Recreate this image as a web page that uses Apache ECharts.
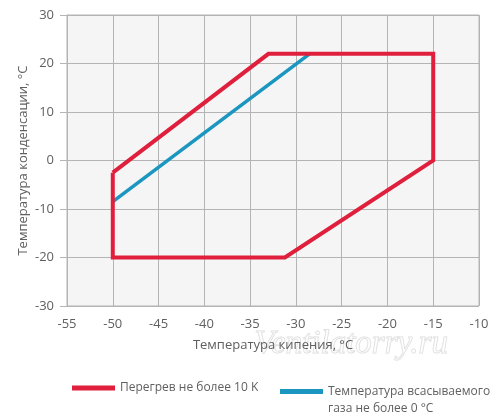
<!DOCTYPE html>
<html>
<head>
<meta charset="utf-8">
<script src="https://cdn.jsdelivr.net/npm/echarts@6/dist/echarts.min.js"></script>
<style>
  html, body { margin: 0; padding: 0; background: #fff; }
  #main { width: 500px; height: 416px; }
</style>
</head>
<body>
<div id="main"></div>
<script>
// envelope data, [boiling temp, condensing temp]
var superheatLine = [
  [-50, -2.5], [-33, 22], [-15, 22], [-15, 0],
  [-31.2, -20], [-50, -20], [-50, -2.5]
];
var suctionGasLine = [[-50, -8.5], [-28.5, 22]];
var seriesNames = ['Перегрев не более 10 K', 'Температура всасываемого газа не более 0 °C'];

var xMin = -55, xMax = -10, xStep = 5;
var yMin = -30, yMax = 30, yStep = 10;

var gray = '#5f5f5f';
var gridColor = '#b4b4b4';
var font = 'Open Sans';

const chart = echarts.init(document.getElementById('main'));

chart.setOption({
  animation: false,
  textStyle: { fontFamily: font },
  grid: {
    left: 67, right: 21, top: 15, bottom: 110,
    show: true, backgroundColor: '#f5f5f5', borderColor: gridColor, borderWidth: 1
  },
  xAxis: {
    type: 'value', min: xMin, max: xMax, interval: xStep,
    name: 'Температура кипения, °C', nameLocation: 'middle', nameGap: 33,
    nameMoveOverlap: false,
    nameTextStyle: { color: gray, fontSize: 13, fontFamily: font },
    axisLine: { show: true, lineStyle: { color: gridColor } },
    axisTick: { show: true, length: 7, lineStyle: { color: gridColor } },
    axisLabel: { color: gray, fontSize: 13, margin: 12 },
    splitLine: { show: true, lineStyle: { color: gridColor } }
  },
  yAxis: {
    type: 'value', min: yMin, max: yMax, interval: yStep,
    name: 'Температура конденсации, °C', nameLocation: 'middle', nameGap: 37,
    nameMoveOverlap: false,
    nameTextStyle: { color: gray, fontSize: 13, fontFamily: font },
    axisLine: { show: true, lineStyle: { color: gridColor } },
    axisTick: { show: true, length: 7, lineStyle: { color: gridColor } },
    axisLabel: { color: gray, fontSize: 13, margin: 13 },
    splitLine: { show: true, lineStyle: { color: gridColor } }
  },
  legend: [
    {
      data: [seriesNames[0]], left: 67, top: 377,
      itemWidth: 43, itemHeight: 5, itemGap: 8,
      icon: 'rect',
      textStyle: { color: gray, fontSize: 12, fontFamily: font }
    },
    {
      data: [seriesNames[1]], left: 275, top: 361,
      itemWidth: 43, itemHeight: 5,
      icon: 'rect',
      formatter: function () { return '\nТемпература всасываемого\nгаза не более 0 °C'; },
      textStyle: { color: gray, fontSize: 12, lineHeight: 17, fontFamily: font }
    }
  ],
  graphic: [{
    type: 'text', left: 254, top: 327, silent: true,
    style: {
      text: 'Ventilatorry.ru', font: 'italic 33px "Liberation Serif"',
      fill: 'rgba(255,255,255,0.4)', stroke: 'rgba(150,150,150,0.35)', lineWidth: 1
    }
  }],
  series: [
    {
      name: seriesNames[0], type: 'line', data: superheatLine,
      showSymbol: false, color: '#e01f3d',
      lineStyle: { width: 4, color: '#e01f3d', join: 'miter' }
    },
    {
      name: seriesNames[1], type: 'line', data: suctionGasLine,
      showSymbol: false, color: '#1a96c0', z: 1,
      lineStyle: { width: 3.5, color: '#1a96c0' }
    }
  ]
});
</script>
</body>
</html>
